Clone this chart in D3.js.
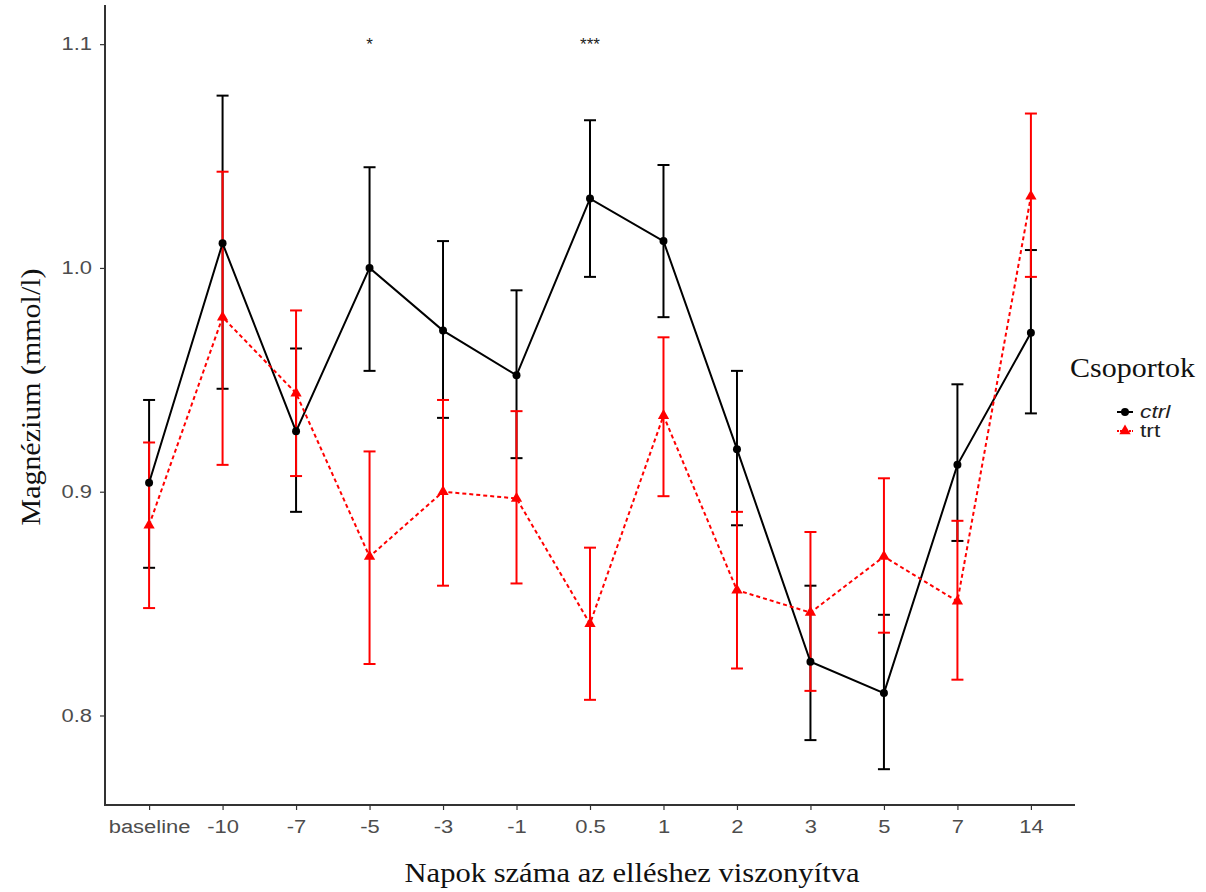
<!DOCTYPE html>
<html lang="en">
    <head>
        <meta charset="utf-8">
        <title>magnezium</title>
        <script src="https://d3js.org/d3.v7.min.js"></script>
        <style type="text/css">
            body { margin: 0; background: #fff; }
            .tick text { font-family: "Liberation Sans", Arial, sans-serif; fill: #4d4d4d; }
        </style>
    </head>
    <body>
        <script type="text/javascript">
            // data
            var categories = ["baseline", "-10", "-7", "-5", "-3", "-1", "0.5", "1", "2", "3", "5", "7", "14"];
            var ctrlMean = [0.904, 1.011, 0.927, 1.000, 0.972, 0.952, 1.031, 1.012, 0.919, 0.824, 0.810, 0.912, 0.971];
            var ctrlLow  = [0.866, 0.946, 0.891, 0.954, 0.933, 0.915, 0.996, 0.978, 0.885, 0.789, 0.776, 0.878, 0.935];
            var ctrlHigh = [0.941, 1.077, 0.964, 1.045, 1.012, 0.990, 1.066, 1.046, 0.954, 0.858, 0.845, 0.948, 1.008];
            var trtMean  = [0.885, 0.978, 0.944, 0.871, 0.900, 0.897, 0.841, 0.934, 0.856, 0.846, 0.871, 0.851, 1.032];
            var trtLow   = [0.848, 0.912, 0.907, 0.823, 0.858, 0.859, 0.807, 0.898, 0.821, 0.811, 0.837, 0.816, 0.996];
            var trtHigh  = [0.922, 1.043, 0.981, 0.918, 0.941, 0.936, 0.875, 0.969, 0.891, 0.882, 0.906, 0.887, 1.069];
            var yTicks = [0.8, 0.9, 1.0, 1.1];
            var sigCats = ["-5", "0.5"];
            var sigLabels = ["*", "***"];
            var groupNames = ["ctrl", "trt"];

            var margin = {top: 5, right: 131, bottom: 87, left: 105},
                width = 1206 - margin.left - margin.right,
                height = 892 - margin.top - margin.bottom;

            var svg = d3.select("body").append("svg")
                .attr("width", 1206)
                .attr("height", 892);
            var g = svg.append("g")
                .attr("transform", "translate(" + margin.left + "," + margin.top + ")");

            var x = d3.scalePoint().domain(categories).range([0, width]).padding(0.6);
            var y = d3.scaleLinear().domain([0.76, 1.1175]).range([height, 0]);

            // the source picture is a bit wider than tall, stretch text to match
            function stretch(sel, k) {
                sel.each(function() {
                    var len = this.getComputedTextLength();
                    d3.select(this).attr("textLength", len * k).attr("lengthAdjust", "spacingAndGlyphs");
                });
            }

            function series(mean, low, high) {
                return categories.map(function(c, i) {
                    return {cat: c, mean: mean[i], low: low[i], high: high[i]};
                });
            }
            var groups = [
                {name: groupNames[0], color: "#000000", dash: null, shape: d3.symbolCircle, size: 50, data: series(ctrlMean, ctrlLow, ctrlHigh)},
                {name: groupNames[1], color: "#ff0000", dash: "4,3", shape: d3.symbolTriangle, size: 55, data: series(trtMean, trtLow, trtHigh)}
            ];

            // axes
            var yAxis = g.append("g")
                .call(d3.axisLeft(y).tickValues(yTicks).tickFormat(d3.format(".1f")).tickSize(5).tickPadding(8));
            var xAxis = g.append("g")
                .attr("transform", "translate(0," + height + ")")
                .call(d3.axisBottom(x).tickSize(5).tickPadding(10));
            [xAxis, yAxis].forEach(function(a) {
                a.select(".domain").attr("stroke", "#333").attr("stroke-width", 2);
                a.selectAll(".tick line").attr("stroke", "#333").attr("stroke-width", 1.2);
                a.selectAll(".tick text").style("font-size", "18px").call(stretch, 1.22);
            });
            yAxis.select(".domain").attr("d", "M0," + (height + 1) + "V0");
            xAxis.select(".domain").attr("d", "M-1,0H" + width);

            var capW = 6;
            groups.forEach(function(grp) {
                var eb = g.append("g").attr("class", "errorbars");
                eb.selectAll("line.v").data(grp.data).enter().append("line")
                    .attr("x1", function(d) { return x(d.cat); })
                    .attr("x2", function(d) { return x(d.cat); })
                    .attr("y1", function(d) { return y(d.low); })
                    .attr("y2", function(d) { return y(d.high); })
                    .attr("stroke", grp.color).attr("stroke-width", 2);
                ["low", "high"].forEach(function(k) {
                    eb.selectAll("line.c" + k).data(grp.data).enter().append("line")
                        .attr("x1", function(d) { return x(d.cat) - capW; })
                        .attr("x2", function(d) { return x(d.cat) + capW; })
                        .attr("y1", function(d) { return y(d[k]); })
                        .attr("y2", function(d) { return y(d[k]); })
                        .attr("stroke", grp.color).attr("stroke-width", 2);
                });
            });

            var line = d3.line()
                .x(function(d) { return x(d.cat); })
                .y(function(d) { return y(d.mean); });

            groups.forEach(function(grp) {
                g.append("path")
                    .datum(grp.data)
                    .attr("d", line)
                    .attr("fill", "none")
                    .attr("stroke", grp.color)
                    .attr("stroke-width", 2)
                    .attr("stroke-dasharray", grp.dash);
                g.selectAll(null).data(grp.data).enter().append("path")
                    .attr("d", d3.symbol().type(grp.shape).size(grp.size))
                    .attr("transform", function(d) { return "translate(" + x(d.cat) + "," + y(d.mean) + ")"; })
                    .attr("fill", grp.color);
            });

            // significance marks
            g.selectAll(".sig").data(sigCats).enter().append("text")
                .attr("class", "sig")
                .attr("x", function(d) { return x(d); })
                .attr("y", 45)
                .attr("text-anchor", "middle")
                .style("font-family", "Liberation Sans, Arial, sans-serif")
                .style("font-size", "17px")
                .attr("fill", "#222")
                .text(function(d, i) { return sigLabels[i]; });

            // axis titles
            svg.append("text")
                .attr("x", 632).attr("y", 882)
                .attr("text-anchor", "middle")
                .attr("textLength", 455).attr("lengthAdjust", "spacingAndGlyphs")
                .style("font-family", "Liberation Serif, Times New Roman, serif")
                .style("font-size", "27px")
                .attr("fill", "#111")
                .text("Napok száma az elléshez viszonyítva");
            svg.append("text")
                .attr("transform", "translate(40,397) rotate(-90)")
                .attr("text-anchor", "middle")
                .attr("textLength", 257).attr("lengthAdjust", "spacingAndGlyphs")
                .style("font-family", "Liberation Serif, Times New Roman, serif")
                .style("font-size", "27px")
                .attr("fill", "#111")
                .text("Magnézium (mmol/l)");

            // legend
            var legend = svg.append("g").attr("transform", "translate(1070,0)");
            legend.append("text")
                .attr("x", 0).attr("y", 377)
                .attr("textLength", 125).attr("lengthAdjust", "spacingAndGlyphs")
                .style("font-family", "Liberation Serif, Times New Roman, serif")
                .style("font-size", "27px")
                .attr("fill", "#111")
                .text("Csoportok");
            groups.forEach(function(grp, i) {
                var ky = 412 + i * 19;
                legend.append("line")
                    .attr("x1", 47).attr("x2", 63).attr("y1", ky).attr("y2", ky)
                    .attr("stroke", grp.color).attr("stroke-width", 2)
                    .attr("stroke-dasharray", grp.dash ? "2,1" : null);
                legend.append("path")
                    .attr("d", d3.symbol().type(grp.shape).size(grp.size))
                    .attr("transform", "translate(55," + ky + ")")
                    .attr("fill", grp.color);
                legend.append("text")
                    .attr("x", 70).attr("y", ky + 6)
                    .style("font-family", "Liberation Sans, Arial, sans-serif")
                    .style("font-size", "19px")
                    .style("font-style", i === 0 ? "italic" : "normal")
                    .attr("fill", "#222")
                    .text(grp.name)
                    .call(stretch, 1.2);
            });
        </script>
    </body>
</html>
